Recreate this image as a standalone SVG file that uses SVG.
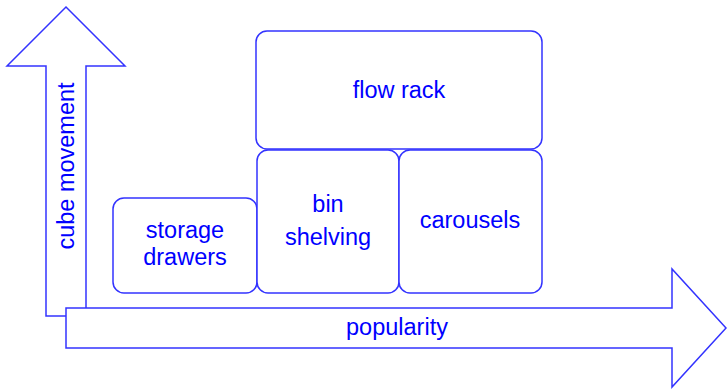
<svg xmlns="http://www.w3.org/2000/svg" width="727" height="389" viewBox="0 0 727 389">
<style>
.s{fill:#fff;stroke:#3333ff;stroke-width:1.5}
.t{font-family:"Liberation Sans",Arial,sans-serif;font-size:23.5px;fill:#0000ff;text-anchor:middle}
</style>
<rect width="727" height="389" fill="#fff"/>
<g id="connectors">
<polygon id="axis-y" class="s" points="66,7 125,66 86,66 86,316 46,316 46,66 7,66"/>
<polygon id="axis-x" class="s" points="66,308 672,308 672,269 726,328 672,387 672,348 66,348"/>
</g>
<text class="t" transform="translate(74,166) rotate(-90)">cube movement</text>
<text class="t" x="397" y="335">popularity</text>
<g id="storage-drawers">
<rect class="s" x="113" y="198" width="144" height="95" rx="11"/>
<text class="t" x="185" y="238">storage</text>
<text class="t" x="185" y="265">drawers</text>
</g>
<g id="bin-shelving">
<rect class="s" x="257" y="150" width="142" height="143" rx="11"/>
<text class="t" x="328" y="212">bin</text>
<text class="t" x="328" y="245">shelving</text>
</g>
<g id="carousels">
<rect class="s" x="399" y="150" width="143" height="143" rx="11"/>
<text class="t" x="470" y="228">carousels</text>
</g>
<g id="flow-rack">
<rect class="s" x="256" y="31" width="286" height="118" rx="11"/>
<text class="t" x="399" y="98">flow rack</text>
</g>
</svg>
